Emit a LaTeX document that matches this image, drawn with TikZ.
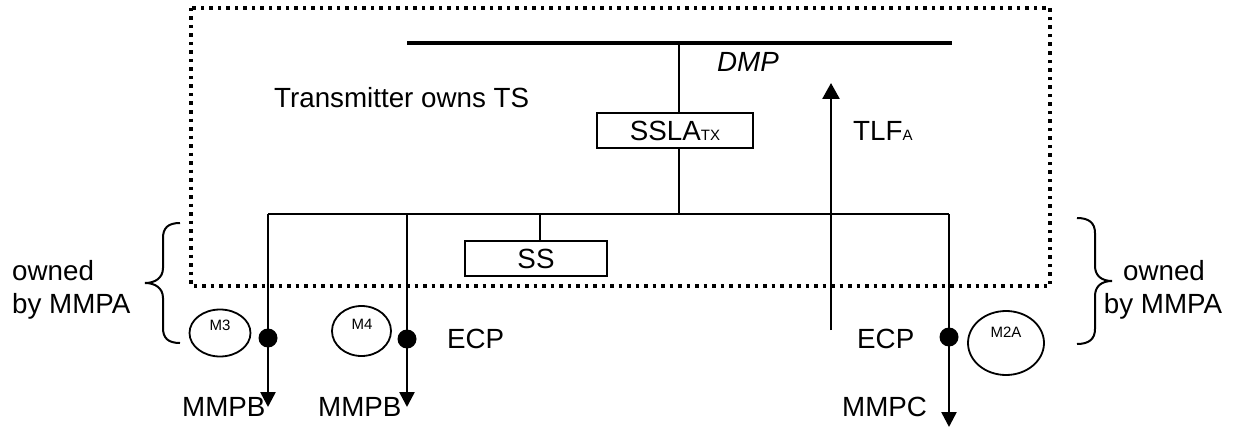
\documentclass[tikz,border=0pt]{standalone}
\usepackage{fontspec}
\setmainfont{Liberation Sans}
\usetikzlibrary{arrows.meta,shapes.geometric}
\begin{document}
\begin{tikzpicture}[x=1pt,y=-1pt,
  txt/.style={font=\fontsize{27.75}{33.3}\selectfont, inner sep=0pt},
  itxt/.style={font=\fontsize{27.75}{33.3}\selectfont\itshape, inner sep=0pt},
  smalltxt/.style={font=\fontsize{15}{18}\selectfont, inner sep=0pt},
  box/.style={draw, line width=1.8pt, minimum width=#1, minimum height=35pt, inner sep=0pt,
    font=\fontsize{27.75}{33.3}\selectfont},
  wire/.style={line width=2pt},
  feed/.style={line width=2.6pt},
  ecpdot/.style={circle, fill, minimum size=19pt, inner sep=0pt},
  meter/.style={draw, ellipse, line width=1.8pt, inner sep=0pt},
  tip/.style={-{Triangle[length=15pt,width=15pt]}},
  bracepath/.style={line width=2pt},
  boundary/.style={line width=3.5pt, dash pattern=on 3.5pt off 5pt}
]
\useasboundingbox (0,0) rectangle (1235,428);

% ownership boundary
\draw[boundary] (191,8) rectangle (1050,286);

% DMP bus
\coordinate (dmpL) at (407,43);
\coordinate (dmpR) at (952,43);
\coordinate (dmpTap) at (679,43);
\draw[line width=3.5pt] (dmpL) -- (dmpR);

% SSLA box
\node[box=156pt] (ssla) at (675,130.5) {SSLA{\fontsize{15}{18}\selectfont TX}};
\coordinate (tap) at (679,214);
\draw[wire] (dmpTap) -- (dmpTap |- ssla.north);
\draw[wire] (tap |- ssla.south) -- (tap);

% lower bus
\coordinate (bL) at (268,214);
\coordinate (b4) at (407,214);
\coordinate (bR) at (949,214);
\coordinate (ssTap) at (540,214);
\draw[wire] (bL) -- (bR);

% SS box
\node[box=142pt] (ss) at (536,258.5) {SS};
\draw[wire] (ssTap) -- (ssTap |- ss.north);

% outgoing feeders
\coordinate (outB1) at (268,407);
\coordinate (outB2) at (407,407);
\coordinate (outC) at (949,427);
\draw[feed,tip] (bL) -- (outB1);
\draw[feed,tip] (b4) -- (outB2);
\draw[feed,tip] (bR) -- (outC);

% ECP dots
\node[ecpdot] (d3) at (268,338) {};
\node[ecpdot] (d4) at (407,339) {};
\node[ecpdot] (d2a) at (949,337) {};

% meters
\node[meter, minimum width=61pt, minimum height=47pt] (m3) at (220,333) {};
\node[meter, minimum width=59pt, minimum height=50pt] (m4) at (361.5,331) {};
\node[meter, minimum width=76pt, minimum height=64pt] (m2a) at (1006,343) {};
\node[smalltxt, anchor=base] (m3t) at (220,330) {M3};
\node[smalltxt, anchor=base] (m4t) at (362,329) {M4};
\node[smalltxt, anchor=base] (m2at) at (1006,337) {M2A};

% TLF arrow
\coordinate (tlfS) at (831,330);
\coordinate (tlfE) at (831,83);
\draw[feed,-{Triangle[length=16pt,width=17pt]}] (tlfS) -- (tlfE);

% texts
\node[txt, anchor=base west] (owns) at (274,107) {Transmitter owns TS};
\node[itxt, anchor=base west] (dmp) at (717,72) {DMP};
\node[txt, anchor=base west] (tlf) at (853,140) {TLF{\fontsize{15}{18}\selectfont A}};
\node[txt, anchor=base west] (ecp1) at (447,348) {ECP};
\node[txt, anchor=base west] (ecp2) at (857,348) {ECP};
\node[txt, anchor=base west] (mmpb1) at (182,416) {MMPB};
\node[txt, anchor=base west] (mmpb2) at (318,416) {MMPB};
\node[txt, anchor=base west] (mmpc) at (842,416) {MMPC};
\node[txt, anchor=base west] (ownL1) at (12,280) {owned};
\node[txt, anchor=base west] (ownL2) at (12,313) {by MMPA};
\node[txt, anchor=base] (ownR1) at (1164,280) {owned};
\node[txt, anchor=base] (ownR2) at (1163,313) {by MMPA};

% braces
\draw[bracepath] (180,223) .. controls (168,223) and (163,228) .. (163,238) -- (163,268)
  .. controls (163,278) and (155,283) .. (145,283)
  .. controls (155,283) and (163,288) .. (163,298) -- (163,328)
  .. controls (163,338) and (168,343) .. (180,343);
\draw[bracepath] (1077,218) .. controls (1089,218) and (1095,223) .. (1095,233) -- (1095,266)
  .. controls (1095,276) and (1102,281) .. (1112,281)
  .. controls (1102,281) and (1095,286) .. (1095,296) -- (1095,329)
  .. controls (1095,339) and (1089,344) .. (1077,344);
\end{tikzpicture}
\end{document}
